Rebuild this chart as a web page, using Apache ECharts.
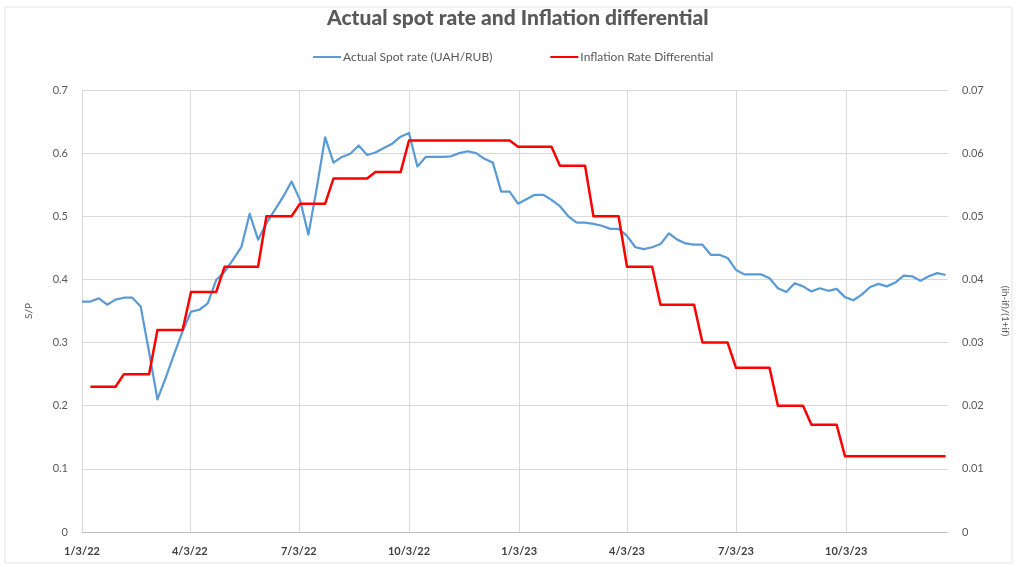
<!DOCTYPE html>
<html>
<head>
<meta charset="utf-8">
<script src="https://cdn.jsdelivr.net/npm/echarts@6/dist/echarts.min.js"></script>
<style>
  html, body { margin: 0; padding: 0; background: #ffffff; }
  #chart { width: 1017px; height: 567px; }
</style>
</head>
<body>
<div id="chart"></div>
<script>
// Weekly observations, one per Monday starting at firstWeek
const firstWeek = '1/3/22';
const axisEnd = '12/27/23';

// Actual spot rate UAH/RUB (left axis)
const spotRate = [
  0.365, 0.365, 0.370, 0.360, 0.368, 0.371, 0.371, 0.357, 0.285, 0.210,
  0.245, 0.282, 0.318, 0.349, 0.352, 0.362, 0.399, 0.412, 0.431, 0.451,
  0.504, 0.463, 0.489, 0.510, 0.531, 0.555, 0.526, 0.471, 0.545, 0.625,
  0.585, 0.594, 0.599, 0.612, 0.597, 0.601, 0.608, 0.615, 0.626, 0.632,
  0.579, 0.594, 0.594, 0.594, 0.595, 0.600, 0.603, 0.600, 0.591, 0.585,
  0.539, 0.539, 0.520, 0.527, 0.534, 0.534, 0.526, 0.516, 0.500, 0.490,
  0.490, 0.488, 0.485, 0.480, 0.480, 0.469, 0.451, 0.448, 0.451, 0.456,
  0.473, 0.463, 0.457, 0.455, 0.455, 0.439, 0.439, 0.434, 0.415, 0.408,
  0.408, 0.408, 0.402, 0.386, 0.380, 0.394, 0.389, 0.381, 0.386, 0.382,
  0.385, 0.372, 0.367, 0.376, 0.388, 0.393, 0.389, 0.395, 0.406, 0.405,
  0.398, 0.405, 0.410, 0.407
];

// Inflation rate differential (right axis), monthly value held for each week
const inflationDiff = [
  null,
  0.023, 0.023, 0.023, 0.023,
  0.025, 0.025, 0.025, 0.025,
  0.032, 0.032, 0.032, 0.032,
  0.038, 0.038, 0.038, 0.038,
  0.042, 0.042, 0.042, 0.042, 0.042,
  0.050, 0.050, 0.050, 0.050,
  0.052, 0.052, 0.052, 0.052,
  0.056, 0.056, 0.056, 0.056, 0.056,
  0.057, 0.057, 0.057, 0.057,
  0.062, 0.062, 0.062, 0.062, 0.062, 0.062, 0.062, 0.062, 0.062, 0.062, 0.062, 0.062, 0.062,
  0.061, 0.061, 0.061, 0.061, 0.061,
  0.058, 0.058, 0.058, 0.058,
  0.050, 0.050, 0.050, 0.050,
  0.042, 0.042, 0.042, 0.042,
  0.036, 0.036, 0.036, 0.036, 0.036,
  0.030, 0.030, 0.030, 0.030,
  0.026, 0.026, 0.026, 0.026, 0.026,
  0.020, 0.020, 0.020, 0.020,
  0.017, 0.017, 0.017, 0.017,
  0.012, 0.012, 0.012, 0.012, 0.012, 0.012, 0.012, 0.012, 0.012, 0.012, 0.012, 0.012, 0.012
];

// Date axis labels
const tickLabels = ['1/3/22', '4/3/22', '7/3/22', '10/3/22', '1/3/23', '4/3/23', '7/3/23', '10/3/23'];

const DAY = 86400000;
function parseDate(s) {
  const [m, d, y] = s.split('/').map(Number);
  return Date.UTC(2000 + y, m - 1, d);
}
function formatDate(v) {
  const d = new Date(v);
  return (d.getUTCMonth() + 1) + '/' + d.getUTCDate() + '/' + String(d.getUTCFullYear()).slice(2);
}

const start = parseDate(firstWeek);
const weekDates = spotRate.map((_, i) => start + i * 7 * DAY);
const tickValues = tickLabels.map(parseDate);

const textGray = '#595959';
const gridGray = '#d9d9d9';
const fontFamily = 'Lato, "Open Sans", sans-serif';

const chart = echarts.init(document.getElementById('chart'), null, { renderer: 'canvas' });

chart.setOption({
  backgroundColor: '#ffffff',
  animation: false,
  textStyle: { fontFamily: fontFamily },
  graphic: [{
    type: 'rect',
    shape: { x: 5, y: 7, width: 1007, height: 556 },
    style: { fill: 'none', stroke: '#e3e3e3', lineWidth: 1 },
    silent: true,
    z: -10
  }],
  title: {
    text: 'Actual spot rate and Inflation differential',
    left: 322,
    top: 3,
    textStyle: { fontFamily: fontFamily, fontSize: 21, fontWeight: 900, color: textGray }
  },
  legend: {
    left: 308,
    top: 46,
    itemGap: 58,
    icon: 'rect',
    itemWidth: 28,
    itemHeight: 2,
    textStyle: { fontFamily: fontFamily, fontSize: 12, color: textGray, padding: [0, 0, 0, -3] },
    data: ['Actual Spot rate (UAH/RUB)', 'Inflation Rate Differential']
  },
  grid: {
    left: 82,
    right: 69,
    top: 90,
    bottom: 35,
    containLabel: false,
    outerBoundsMode: 'none'
  },
  xAxis: {
    type: 'value',
    min: start,
    max: parseDate(axisEnd),
    axisLine: { show: true, lineStyle: { color: '#bfbfbf', width: 1 } },
    axisTick: { show: false, customValues: tickValues },
    splitLine: { show: true, lineStyle: { color: gridGray, width: 1 } },
    axisLabel: {
      customValues: tickValues,
      formatter: formatDate,
      color: '#404040',
      fontSize: 11,
      fontWeight: 'bold',
      margin: 14,
      fontFamily: fontFamily
    }
  },
  yAxis: [{
    type: 'value',
    min: 0,
    max: 0.7,
    interval: 0.1,
    name: 'S/P',
    nameLocation: 'middle',
    nameGap: 48,
    nameTextStyle: { color: textGray, fontSize: 10, fontFamily: fontFamily },
    axisLine: { show: false },
    axisTick: { show: false },
    splitLine: { show: true, lineStyle: { color: gridGray, width: 1 } },
    axisLabel: { color: textGray, fontSize: 11, margin: 14, fontFamily: fontFamily }
  }, {
    type: 'value',
    min: 0,
    max: 0.07,
    interval: 0.01,
    position: 'right',
    name: '(ih-if)/(1+if)',
    nameLocation: 'middle',
    nameRotate: -90,
    nameGap: 52,
    nameTextStyle: { color: textGray, fontSize: 10, fontFamily: fontFamily },
    axisLine: { show: false },
    axisTick: { show: false },
    splitLine: { show: false },
    axisLabel: { color: textGray, fontSize: 11, margin: 14, fontFamily: fontFamily }
  }],
  series: [{
    name: 'Actual Spot rate (UAH/RUB)',
    type: 'line',
    yAxisIndex: 0,
    showSymbol: false,
    symbol: 'none',
    color: '#5b9bd5',
    lineStyle: { color: '#5b9bd5', width: 2.25, join: 'round' },
    data: weekDates.map((t, i) => [t, spotRate[i]])
  }, {
    name: 'Inflation Rate Differential',
    type: 'line',
    yAxisIndex: 1,
    showSymbol: false,
    symbol: 'none',
    color: '#ff0000',
    connectNulls: false,
    lineStyle: { color: '#ff0000', width: 2.5, join: 'round' },
    data: weekDates.map((t, i) => [t, inflationDiff[i]])
  }]
});
</script>
</body>
</html>
